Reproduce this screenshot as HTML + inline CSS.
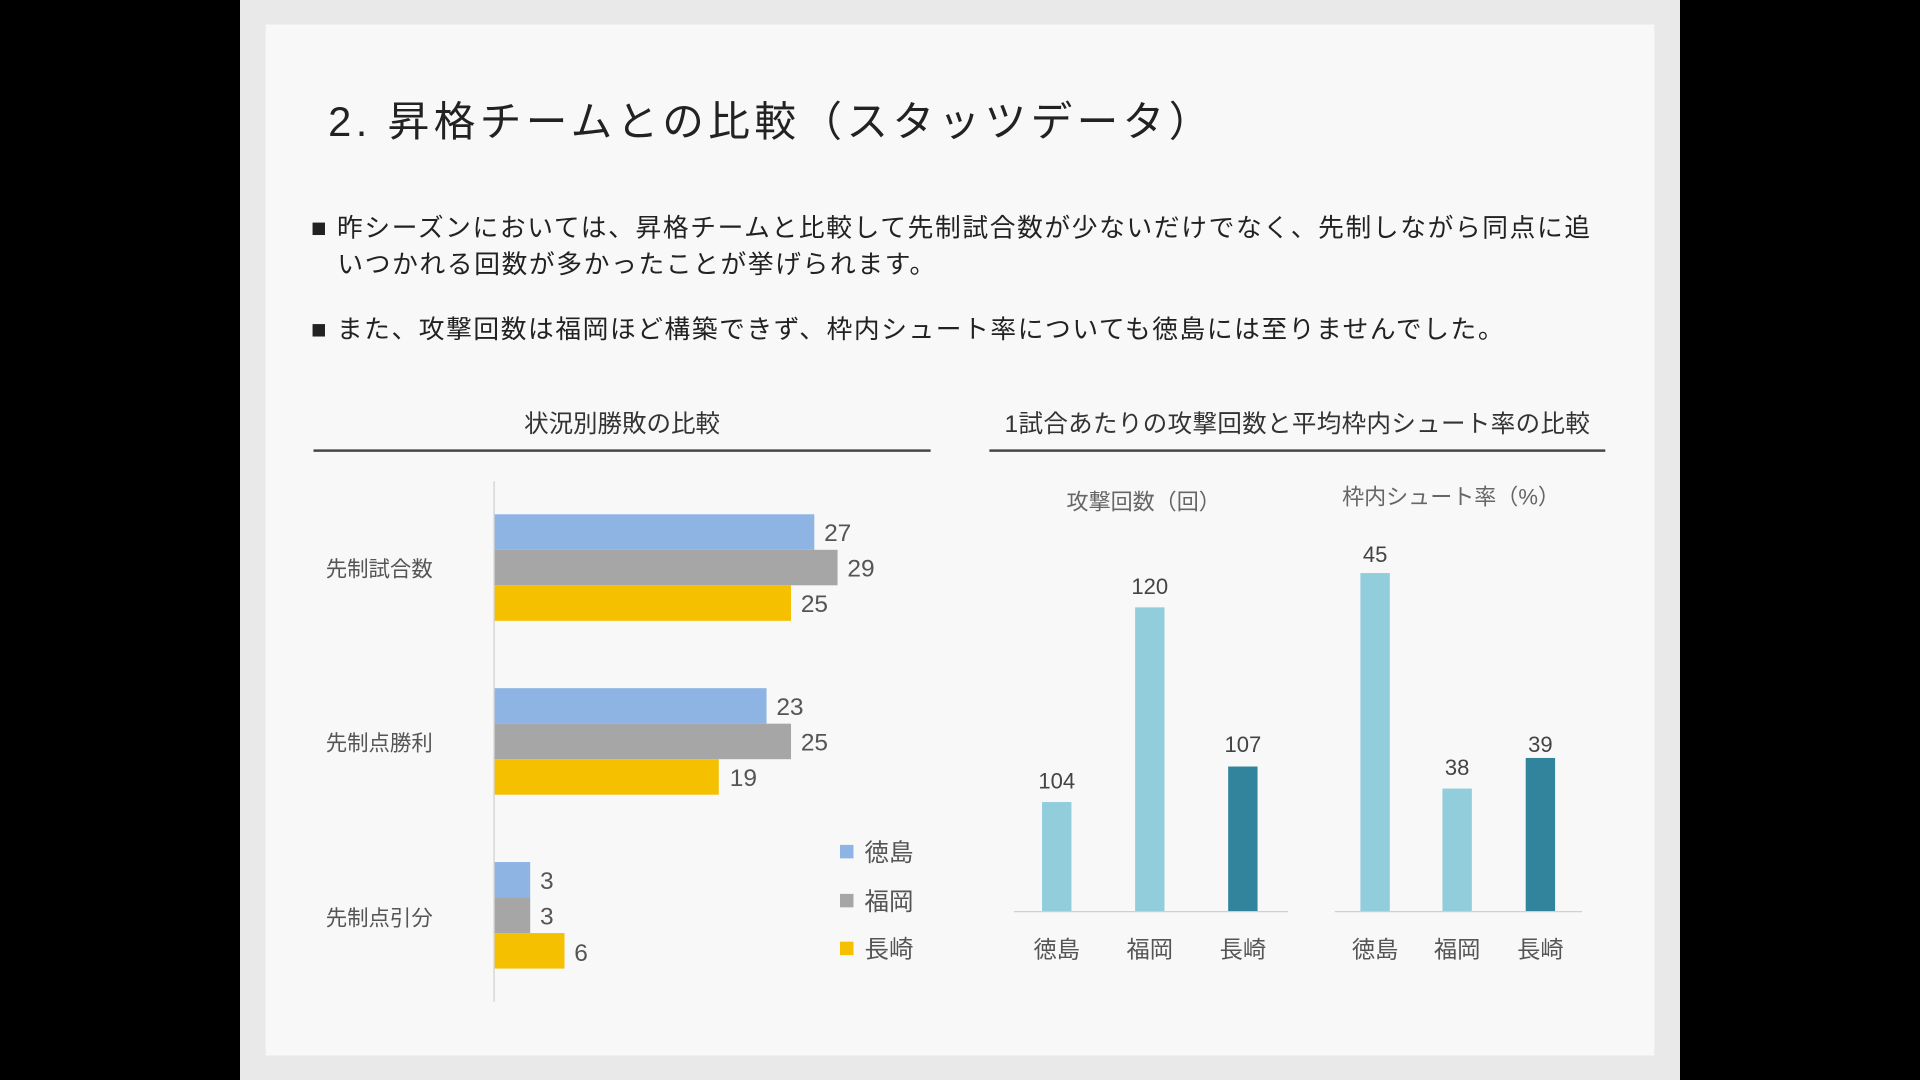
<!DOCTYPE html>
<html><head><meta charset="utf-8"><style>
html,body{margin:0;padding:0;background:#000;width:1920px;height:1080px;overflow:hidden}
#s{position:absolute;left:0;top:0;width:1568px;height:882px;transform:scale(1.22449);transform-origin:0 0;font-family:"Liberation Sans","Noto Sans CJK JP",sans-serif;color:#222}
.a{position:absolute;white-space:nowrap}
</style></head><body><div id="s">
<div class="a" style="left:196px;top:0;width:1176px;height:882px;background:#e9e9e9"></div>
<div class="a" style="left:217px;top:20px;width:1134px;height:842px;background:#f8f8f8"></div>
<div class="a" style="left:268px;top:72px;font-size:34px;letter-spacing:3.6px;color:#222">2. 昇格チームとの比較（スタッツデータ）</div>
<div class="a" style="left:254px;top:172px;font-size:21px;line-height:30px;letter-spacing:1.35px;color:#222">■ 昨シーズンにおいては、昇格チームと比較して先制試合数が少ないだけでなく、先制しながら同点に追<br>&nbsp;&nbsp;&nbsp;いつかれる回数が多かったことが挙げられます。</div>
<div class="a" style="left:254px;top:253px;font-size:21px;letter-spacing:1.3px;color:#222">■ また、攻撃回数は福岡ほど構築できず、枠内シュート率についても徳島には至りませんでした。</div>
<div class="a" style="left:256px;top:330px;width:504px;text-align:center;font-size:20px;color:#333">状況別勝敗の比較</div>
<div class="a" style="left:256px;top:367px;width:504px;height:2px;background:#444"></div>
<div class="a" style="left:808px;top:330px;width:503px;text-align:center;font-size:20px;letter-spacing:0.3px;color:#333">1試合あたりの攻撃回数と平均枠内シュート率の比較</div>
<div class="a" style="left:808px;top:367px;width:503px;height:2px;background:#444"></div>
<svg class="a" style="left:0;top:0" width="1568" height="882" font-family="Liberation Sans, Noto Sans CJK JP, sans-serif">
<line x1="403.5" y1="393" x2="403.5" y2="818" stroke="#d0d0d0"/>
<g font-size="20" fill="#555">
<rect x="404" y="420" width="261" height="29" fill="#8db4e2"/><text x="673" y="442">27</text>
<rect x="404" y="449" width="280" height="29" fill="#a6a6a6"/><text x="692" y="471">29</text>
<rect x="404" y="478" width="242" height="29" fill="#f5c000"/><text x="654" y="500">25</text>
<rect x="404" y="562" width="222" height="29" fill="#8db4e2"/><text x="634" y="584">23</text>
<rect x="404" y="591" width="242" height="29" fill="#a6a6a6"/><text x="654" y="613">25</text>
<rect x="404" y="620" width="183" height="29" fill="#f5c000"/><text x="596" y="642">19</text>
<rect x="404" y="704" width="29" height="29" fill="#8db4e2"/><text x="441" y="726">3</text>
<rect x="404" y="733" width="29" height="29" fill="#a6a6a6"/><text x="441" y="755">3</text>
<rect x="404" y="762" width="57" height="29" fill="#f5c000"/><text x="469" y="785">6</text>
<g font-size="17.5"><text x="266" y="471">先制試合数</text><text x="266" y="613">先制点勝利</text><text x="266" y="756">先制点引分</text></g>
<rect x="686" y="690" width="11" height="11" fill="#8db4e2"/><text x="706" y="703">徳島</text>
<rect x="686" y="730" width="11" height="11" fill="#a6a6a6"/><text x="706" y="743">福岡</text>
<rect x="686" y="769" width="11" height="11" fill="#f5c000"/><text x="706" y="782">長崎</text>
</g>
<line x1="828" y1="744.5" x2="1052" y2="744.5" stroke="#d0d0d0"/>
<line x1="1090" y1="744.5" x2="1292" y2="744.5" stroke="#d0d0d0"/>
<g font-size="18" fill="#444" text-anchor="middle">
<text x="934" y="416" fill="#666">攻撃回数（回）</text>
<text x="1185" y="412" fill="#666">枠内シュート率（%）</text>
<rect x="851" y="655" width="24" height="89" fill="#92cddc"/><text x="863" y="644">104</text>
<rect x="927" y="496" width="24" height="248" fill="#92cddc"/><text x="939" y="485">120</text>
<rect x="1003" y="626" width="24" height="118" fill="#31849b"/><text x="1015" y="614">107</text>
<rect x="1111" y="468" width="24" height="276" fill="#92cddc"/><text x="1123" y="459">45</text>
<rect x="1178" y="644" width="24" height="100" fill="#92cddc"/><text x="1190" y="633">38</text>
<rect x="1246" y="619" width="24" height="125" fill="#31849b"/><text x="1258" y="614">39</text>
<g font-size="19" fill="#555">
<text x="863" y="782">徳島</text><text x="939" y="782">福岡</text><text x="1015" y="782">長崎</text>
<text x="1123" y="782">徳島</text><text x="1190" y="782">福岡</text><text x="1258" y="782">長崎</text>
</g></g>
</svg>
</div></body></html>
